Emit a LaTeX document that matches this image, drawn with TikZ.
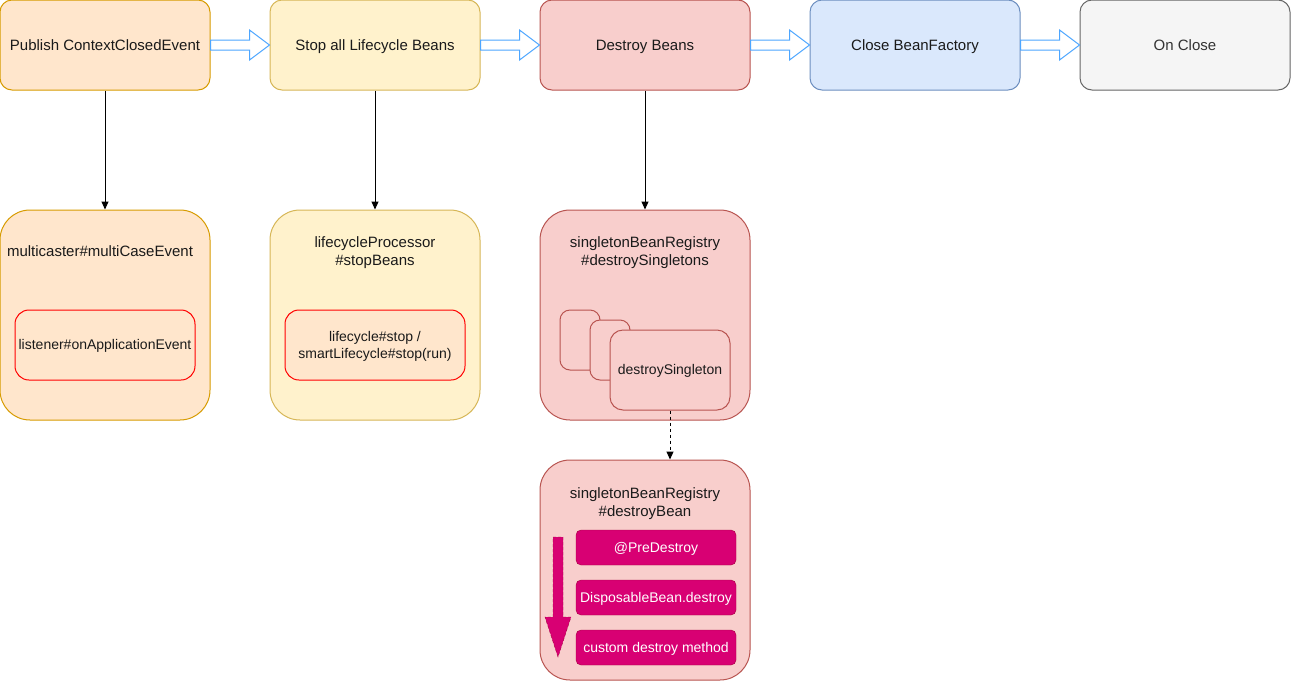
\documentclass[tikz,border=0pt]{standalone}
\usepackage{fontspec}
\setmainfont{Liberation Sans}
\usepackage{tikz}
\usetikzlibrary{arrows.meta,calc}
\usepackage{xcolor}
\definecolor{orangeFill}{HTML}{FFE6CC}
\definecolor{orangeLine}{HTML}{D79B00}
\definecolor{yellowFill}{HTML}{FFF2CC}
\definecolor{yellowLine}{HTML}{D6B656}
\definecolor{redFill}{HTML}{F8CECC}
\definecolor{redLine}{HTML}{B85450}
\definecolor{blueFill}{HTML}{DAE8FC}
\definecolor{blueLine}{HTML}{6C8EBF}
\definecolor{greyFill}{HTML}{F5F5F5}
\definecolor{greyLine}{HTML}{666666}
\definecolor{greyText}{HTML}{333333}
\definecolor{darkText}{HTML}{1A1A1A}
\definecolor{magentaFill}{HTML}{D80073}
\definecolor{magentaLine}{HTML}{A50040}
\definecolor{flowBlue}{HTML}{4DA6FF}

\begin{document}
\begin{tikzpicture}[x=1pt, y=-1pt,
			every node/.style={font=\fontsize{15}{18}\selectfont, text=darkText},
			small/.style={font=\fontsize{14}{17}\selectfont},
			oneline/.style={text height=13.5pt, text depth=3pt},
			smallline/.style={text height=12.6pt, text depth=2.9pt},
			stage/.style={rectangle, rounded corners=12pt, line width=1pt, minimum width=210pt, minimum height=90pt, align=center, oneline},
			call/.style={rectangle, rounded corners=30pt, line width=1pt, minimum width=210pt, minimum height=210pt},
			inner/.style={rectangle, rounded corners=14pt, draw=red, fill=orangeFill, line width=1pt, minimum width=180pt, minimum height=70pt, align=center, small},
			single/.style={rectangle, rounded corners=10pt, draw=redLine, fill=redFill, line width=1pt, small},
			hook/.style={rectangle, rounded corners=5pt, draw=magentaLine, fill=magentaFill, text=white, minimum width=160pt, minimum height=35pt, small, smallline},
			flow/.style={draw=flowBlue, fill=white, line width=1pt, line join=miter},
			link/.style={-{Triangle[length=8pt,width=7pt]}, line width=1pt}
			]
			\useasboundingbox (0,0) rectangle (1291,681);
			
			\node[stage, draw=orangeLine, fill=orangeFill] (P) at (105,45) {Publish ContextClosedEvent};
			\node[stage, draw=yellowLine, fill=yellowFill] (S) at (375,45) {Stop all Lifecycle Beans};
			\node[stage, draw=redLine, fill=redFill] (D) at (645,45) {Destroy Beans};
			\node[stage, draw=blueLine, fill=blueFill] (F) at (915,45) {Close BeanFactory};
			\node[stage, draw=greyLine, fill=greyFill, text=greyText] (C) at (1185,45) {On Close};
			
			\draw[flow] ($(P.east)+(0,-5)$) -- ($(S.west)+(-20,-5)$) -- ($(S.west)+(-20,-15)$) -- (S.west) -- ($(S.west)+(-20,15)$) -- ($(S.west)+(-20,5)$) -- ($(P.east)+(0,5)$) -- cycle;
			\draw[flow] ($(S.east)+(0,-5)$) -- ($(D.west)+(-20,-5)$) -- ($(D.west)+(-20,-15)$) -- (D.west) -- ($(D.west)+(-20,15)$) -- ($(D.west)+(-20,5)$) -- ($(S.east)+(0,5)$) -- cycle;
			\draw[flow] ($(D.east)+(0,-5)$) -- ($(F.west)+(-20,-5)$) -- ($(F.west)+(-20,-15)$) -- (F.west) -- ($(F.west)+(-20,15)$) -- ($(F.west)+(-20,5)$) -- ($(D.east)+(0,5)$) -- cycle;
			\draw[flow] ($(F.east)+(0,-5)$) -- ($(C.west)+(-20,-5)$) -- ($(C.west)+(-20,-15)$) -- (C.west) -- ($(C.west)+(-20,15)$) -- ($(C.west)+(-20,5)$) -- ($(F.east)+(0,5)$) -- cycle;
			
			% multicaster
			\node[call, draw=orangeLine, fill=orangeFill] (M) at (105,315) {};
			\node[oneline] (Mt) at (100,251) {multicaster\#multiCaseEvent};
			\node[inner, smallline] (Ml) at (105,345) {listener\#onApplicationEvent};
			
			% lifecycle processor
			\node[call, draw=yellowLine, fill=yellowFill] (L) at (375,315) {};
			\node[align=center] (Lt) at (375,253) {lifecycleProcessor\\\#stopBeans};
			\node[inner, text depth=0pt] (Ls) at (375,345) {lifecycle\#stop /\\smartLifecycle\#stop(run)};
			
			% destroy singletons
			\node[call, draw=redLine, fill=redFill] (R) at (645,315) {};
			\node[align=center] (Rt) at (645,253) {singletonBeanRegistry\\\#destroySingletons};
			\node[single, minimum width=40pt, minimum height=60pt] (R1) at (580,340) {};
			\node[single, minimum width=40pt, minimum height=60pt] (R2) at (610,350) {};
			\node[single, smallline, rounded corners=13pt, minimum width=120pt, minimum height=80pt] (DS) at (670,370) {destroySingleton};
			
			% destroy bean
			\node[call, draw=redLine, fill=redFill, minimum height=220pt] (B) at (645,570) {};
			\node[align=center] (Bt) at (645,503.5) {singletonBeanRegistry\\\#destroyBean};
			\node[hook] (H1) at (656,547.5) {@PreDestroy};
			\node[hook] (H2) at (656,597.5) {DisposableBean.destroy};
			\node[hook] (H3) at (656,647.5) {custom destroy method};
			\draw[draw=magentaLine, fill=magentaFill, dashed, dash pattern=on 3pt off 2pt] (553,537) -- (563,537) -- (563,617) -- (571,617) -- (558,657) -- (545,617) -- (553,617) -- cycle;
			
			\draw[link] (P) -- (M);
			\draw[link] (S) -- (L);
			\draw[link] (D) -- (R);
			\draw[link, dashed, dash pattern=on 3pt off 3pt] (DS.south) -- (DS.south |- B.north);
		\end{tikzpicture}
\end{document}
